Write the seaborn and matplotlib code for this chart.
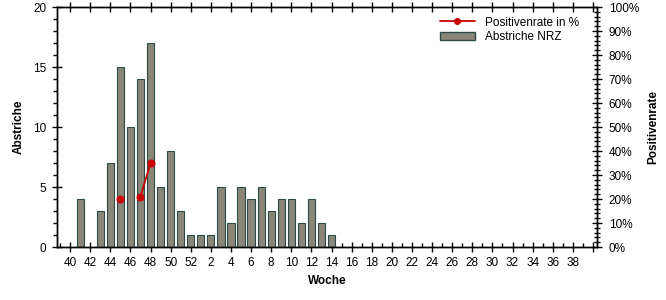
import numpy as np
import pandas as pd
import matplotlib
matplotlib.use("Agg")
import matplotlib.pyplot as plt
import seaborn as sns
from matplotlib.lines import Line2D
from matplotlib.patches import Patch
from matplotlib.ticker import MultipleLocator, FuncFormatter

weeks = list(range(40, 53)) + list(range(1, 40))
swabs = [0, 4, 0, 3, 7, 15, 10, 14, 17, 5, 8, 3, 1,
         1, 1, 5, 2, 5, 4, 5, 3, 4, 4, 2, 4, 2, 1] + [0] * 25
rate_weeks = [45, 47, 48]
rate_vals = [20, 21, 35]
rate_seg = [0, 1, 1]

sns.set_theme(style="white")
plt.rcParams['font.family'] = ['Liberation Sans', 'DejaVu Sans']
plt.rcParams['font.size'] = 8.5
for k in ["text.color", "axes.labelcolor", "xtick.color", "ytick.color"]:
    plt.rcParams[k] = "black"

bar_face = "#8a8679"
bar_edge = "#2e4a48"

fig = plt.figure(figsize=(6.66, 3.0), dpi=100)
ax = fig.add_axes([57/666, 53/300, 540/666, 240/300])

pos = list(range(len(weeks)))
df = pd.DataFrame({"pos": pos, "swabs": swabs})
sns.barplot(data=df, x="pos", y="swabs", ax=ax, color=bar_face,
            saturation=1, width=0.72, edgecolor=bar_edge, linewidth=0.8,
            native_scale=True)
for p in ax.patches:
    p.set_facecolor(bar_face)

ax.set_xlim(-1.3, 52.4)
ax.set_ylim(0, 20)
ax.xaxis.set_major_locator(MultipleLocator(2))
ax.xaxis.set_minor_locator(MultipleLocator(1))
ax.xaxis.set_major_formatter(FuncFormatter(
    lambda v, p: str(weeks[int(round(v))]) if 0 <= int(round(v)) < 51 else ""))
ax.yaxis.set_major_locator(MultipleLocator(5))
ax.yaxis.set_minor_locator(MultipleLocator(1))
ax.tick_params(axis="both", which="major", direction="inout", length=7,
               width=1, color="black", labelsize=8.5, bottom=True, left=True,
               pad=4)
ax.tick_params(axis="x", which="major", top=True, labeltop=False)
ax.tick_params(axis="x", which="minor", direction="in", length=3,
               width=1, color="black", bottom=True, top=False)
ax.tick_params(axis="y", which="minor", direction="out", length=3,
               width=1, color="black", left=True)
ax.set_xlabel("Woche", fontweight="bold", fontsize=8.5)
ax.set_ylabel("Abstriche", fontweight="bold", fontsize=8.5, labelpad=6)
for s in ax.spines.values():
    s.set_color("black")
    s.set_linewidth(1)

ax2 = ax.twinx()
rdf = pd.DataFrame({"pos": [weeks.index(w) for w in rate_weeks],
                    "rate": rate_vals, "seg": rate_seg})
sns.lineplot(data=rdf, x="pos", y="rate", units="seg", estimator=None,
             ax=ax2, color="#cc0000", marker="o", markersize=5,
             markeredgecolor="#cc0000", linewidth=1.3, legend=False)
ax2.set_ylim(0, 100)
ax2.yaxis.set_major_locator(MultipleLocator(10))
ax2.yaxis.set_minor_locator(MultipleLocator(2))
ax2.yaxis.set_major_formatter(FuncFormatter(lambda v, p: f"{int(v)}%"))
ax2.tick_params(axis="y", which="major", direction="inout", length=7,
                width=1, color="black", labelsize=8.5, right=True, pad=5)
ax2.tick_params(axis="y", which="minor", direction="inout", length=4,
                width=1, color="black", right=True)
ax2.set_ylabel("Positivenrate", fontweight="bold", fontsize=8.5, labelpad=6)
ax2.set_xlabel("")
for s in ax2.spines.values():
    s.set_color("black")
    s.set_linewidth(1)

handles = [Line2D([0], [0], color="#cc0000", marker="o", markersize=4,
                  linewidth=1.3),
           Patch(facecolor=bar_face, edgecolor=bar_edge)]
ax2.legend(handles, ["Positivenrate in %", "Abstriche NRZ"],
           loc="upper left", bbox_to_anchor=(0.70, 0.98), frameon=False,
           fontsize=8.5, handlelength=3, handletextpad=0.8,
           labelspacing=0.2, borderaxespad=0)

fig.savefig("out.png", dpi=100)
